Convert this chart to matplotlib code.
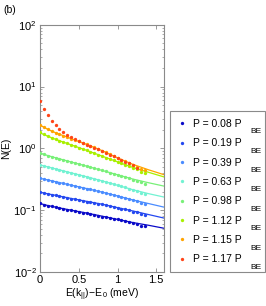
import matplotlib
matplotlib.use('Agg')
import matplotlib.pyplot as plt
from matplotlib.lines import Line2D
from matplotlib.ticker import LogLocator, NullFormatter, FixedLocator

plt.rcParams['font.family'] = ['Liberation Sans', 'DejaVu Sans']
plt.rcParams['mathtext.fontset'] = 'custom'
plt.rcParams['mathtext.rm'] = 'Liberation Sans'
plt.rcParams['mathtext.it'] = 'Liberation Sans:italic'
plt.rcParams['mathtext.bf'] = 'Liberation Sans:bold'
plt.rcParams['mathtext.default'] = 'regular'

# ---------------- data ----------------
powers = ['0.08', '0.19', '0.39', '0.63', '0.98', '1.12', '1.15', '1.17']
colors = ['#0a0ac8', '#2448f0', '#4a8cff', '#72f2d2', '#78f078', '#a8f000', '#ffa400', '#ff4418']

energy = [0.00, 0.05, 0.10, 0.15, 0.20, 0.25, 0.30, 0.35, 0.40, 0.45,
          0.50, 0.55, 0.60, 0.65, 0.70, 0.75, 0.80, 0.85, 0.90, 0.95,
          1.00, 1.05, 1.10, 1.15, 1.20, 1.25, 1.30, 1.35]

n_p008 = [0.130, 0.122, 0.118, 0.115, 0.112, 0.108, 0.105, 0.102, 0.099, 0.097,
          0.094, 0.091, 0.089, 0.086, 0.084, 0.082, 0.079, 0.077, 0.075, 0.073,
          0.071, 0.069, 0.067, 0.064, 0.061, 0.060, 0.056, 0.055]
n_p019 = [0.196, 0.190, 0.184, 0.179, 0.174, 0.169, 0.164, 0.159, 0.154, 0.150,
          0.146, 0.142, 0.138, 0.134, 0.131, 0.128, 0.124, 0.120, 0.117, 0.113,
          0.110, 0.106, 0.103, 0.100, 0.095, 0.093, 0.087, 0.084]
n_p039 = [0.330, 0.318, 0.308, 0.298, 0.289, 0.280, 0.271, 0.262, 0.254, 0.246,
          0.238, 0.231, 0.224, 0.217, 0.210, 0.203, 0.196, 0.189, 0.182, 0.176,
          0.170, 0.164, 0.158, 0.152, 0.145, 0.139, 0.131, 0.125]
n_p063 = [0.545, 0.522, 0.502, 0.484, 0.466, 0.449, 0.433, 0.417, 0.402, 0.388,
          0.374, 0.361, 0.348, 0.335, 0.322, 0.310, 0.298, 0.286, 0.275, 0.264,
          0.253, 0.243, 0.233, 0.222, 0.211, 0.201, 0.192, 0.180]
n_p098 = [0.850, 0.800, 0.765, 0.735, 0.705, 0.678, 0.652, 0.627, 0.603, 0.580,
          0.558, 0.537, 0.516, 0.496, 0.477, 0.458, 0.440, 0.423, 0.406, 0.390,
          0.374, 0.358, 0.343, 0.328, 0.308, 0.296, 0.284, 0.266]
n_p112 = [1.82, 1.68, 1.57, 1.48, 1.40, 1.33, 1.26, 1.20, 1.14, 1.08,
          1.03, 0.98, 0.93, 0.88, 0.835, 0.79, 0.75, 0.71, 0.675, 0.64,
          0.605, 0.575, 0.545, 0.515, 0.48, 0.455, 0.42, 0.40]
n_p115 = [2.42, 2.20, 2.03, 1.90, 1.79, 1.69, 1.60, 1.52, 1.44, 1.37,
          1.30, 1.23, 1.16, 1.10, 1.04, 0.98, 0.92, 0.86, 0.80, 0.75,
          0.70, 0.66, 0.62, 0.58, 0.54, 0.50, 0.47, 0.45]
n_p117 = [5.90, 4.40, 3.40, 2.80, 2.35, 2.05, 1.82, 1.64, 1.50, 1.40,
          1.30, 1.22, 1.15, 1.09, 1.03, 0.97, 0.91, 0.85, 0.79, 0.74,
          0.69, 0.65, 0.61, 0.57, 0.53, 0.49]

energy_fit = [0.0, 0.1, 0.2, 0.4, 0.6, 0.8, 1.0, 1.2, 1.4, 1.6]
fit_p008 = [0.128, 0.119, 0.112, 0.100, 0.090, 0.080, 0.071, 0.063, 0.057, 0.051]
fit_p019 = [0.195, 0.184, 0.174, 0.155, 0.139, 0.125, 0.110, 0.097, 0.085, 0.0745]
fit_p039 = [0.328, 0.308, 0.289, 0.254, 0.224, 0.196, 0.170, 0.146, 0.128, 0.112]
fit_p063 = [0.540, 0.502, 0.466, 0.402, 0.348, 0.298, 0.253, 0.214, 0.185, 0.163]
fit_p098 = [0.840, 0.765, 0.705, 0.603, 0.516, 0.440, 0.374, 0.318, 0.278, 0.245]
fit_p112 = [1.78, 1.57, 1.40, 1.14, 0.93, 0.75, 0.605, 0.49, 0.41, 0.345]
fit_p115 = [2.38, 2.03, 1.79, 1.44, 1.16, 0.92, 0.70, 0.55, 0.45, 0.375]

dots = [n_p008, n_p019, n_p039, n_p063, n_p098, n_p112, n_p115, n_p117]
fits = [fit_p008, fit_p019, fit_p039, fit_p063, fit_p098, fit_p112, fit_p115, None]

xticks = [0, 0.5, 1, 1.5]
xticklabels = ['0', '0.5', '1', '1.5']

# ---------------- figure ----------------
W, H = 266, 306
fig = plt.figure(figsize=(W / 100, H / 100), dpi=100)
ax = fig.add_axes([40 / W, 1 - 272 / H, 124 / W, (272 - 24.7) / H])

for col, fit in zip(colors, fits):
    if fit is not None:
        ax.plot(energy_fit, fit, '-', color=col, lw=0.9, zorder=2)
for col, d in zip(colors, dots):
    ax.plot(energy[:len(d)], d, 'o', color=col, ms=2.4, mew=0, zorder=3)

ax.set_yscale('log')
ax.set_xlim(0, 1.6)
ax.set_ylim(1e-2, 1e2)
ax.xaxis.set_major_locator(FixedLocator(xticks))
ax.set_xticklabels(xticklabels)
ax.yaxis.set_major_locator(LogLocator(base=10, numticks=10))
ax.yaxis.set_minor_locator(LogLocator(base=10, subs=range(2, 10), numticks=20))
ax.yaxis.set_minor_formatter(NullFormatter())

for s in ax.spines.values():
    s.set_color('#8a8a8a')
    s.set_linewidth(0.8)
ax.tick_params(which='both', direction='in', top=True, right=True,
               color='#8a8a8a', labelsize=8, pad=2.5)
ax.tick_params(which='major', length=3, width=0.6)
ax.tick_params(which='minor', length=1.5, width=0.5)

ax.set_ylabel('N(E)', fontsize=7.5, labelpad=2)
ax.set_xlabel(r'E(k$_{||}$)$-$E$_{\,0}$ (meV)', fontsize=7.5, labelpad=1)

fig.text(3 / W, 1 - 10 / H, '(b)', fontsize=7.5, va='center', ha='left')

handles = [Line2D([], [], marker='o', linestyle='none', color=c, ms=2.4, mew=0)
           for c in colors]
labels = ['P = %s P' % p for p in powers]
leg = ax.legend(handles, labels, loc='upper left',
                bbox_to_anchor=(170 / W, 1 - 111 / H, 95 / W, 0.0),
                bbox_transform=fig.transFigure, mode='expand', borderaxespad=0,
                frameon=True, fancybox=False, edgecolor='#8a8a8a', framealpha=1,
                fontsize=7.5, handlelength=0.8, handletextpad=0.7,
                labelspacing=0.9, borderpad=0.75)
leg.get_frame().set_linewidth(0.8)

fig.canvas.draw()
for t in leg.get_texts():
    bb = t.get_window_extent()
    yc = (bb.y0 + bb.y1) / 2
    fig.text(250.5 / W, (yc - 8) / H, 'BE', fontsize=6, va='center', ha='left')

fig.savefig('out.png', dpi=100)
